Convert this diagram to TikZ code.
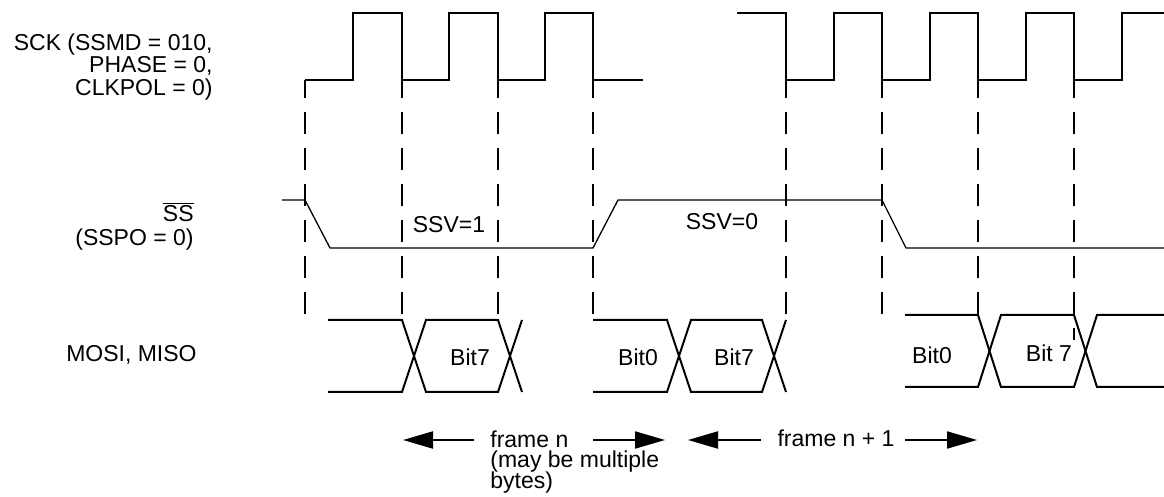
\documentclass[tikz,border=0pt]{standalone}
\usepackage{fontspec}
\setmainfont{Liberation Sans}
\usetikzlibrary{arrows.meta}
\newcommand\sigfont{\fontsize{11.5}{10.3}\selectfont\lineskiplimit=-10pt\relax}

\begin{document}
\begin{tikzpicture}[
    x=0.5pt, y=-0.5pt,
    >={Triangle[length=15pt, width=8.5pt]},
    sigtext/.style={font=\sigfont, inner sep=0pt},
    lbl/.style={sigtext, anchor=east, align=right},
    clk/.style={line width=1.4pt},
    ssline/.style={line width=0.65pt},
    dataline/.style={line width=1pt},
    guide/.style={line width=1pt, dash pattern=on 11pt off 7pt, dash phase=2pt},
    frarrow/.style={->, line width=1pt}
]
\useasboundingbox (0,0) rectangle (1164,497);

% SIGNAL NAMES (LEFT)
\node[lbl, font=\fontsize{11.5}{11.2}\selectfont] (sck_lbl) at (213,67) {SCK (SSMD = 010,\\PHASE = 0,\\CLKPOL = 0)};
\node[lbl] (ss_lbl) at (194,212) {$\overline{\mbox{SS}}$};
\node[lbl] (sspo_lbl) at (194,240) {(SSPO = 0)};
\node[lbl] (mosi_lbl) at (197,355) {MOSI, MISO};

% SCK
\draw[clk] (305,80) -| (353,13) -| (402,80) -| (449,13) -| (498,80) -| (545,13) -| (593,80) -- (643,80);
\draw[clk] (737,13) -| (786,80) -| (834,13) -| (882,80) -| (930,13) -| (978,80) -| (1026,13) -| (1074,80) -| (1122,13) -- (1164,13);

% guides on the falling edges
\draw[guide] (305,80) -- (305,316);
\draw[guide] (402,80) -- (402,316);
\draw[guide] (498,80) -- (498,316);
\draw[guide] (593,80) -- (593,316);
\draw[guide] (786,80) -- (786,316);
\draw[guide] (882,80) -- (882,316);
\draw[guide] (978,80) -- (978,316);
\draw[guide] (1074,80) -- (1074,340);

% SS
\draw[ssline] (282,200) -- (305,200) -- (330,248) -- (593,248) -- (618,200) -- (882,200) -- (906,248) -- (1164,248);
\node[sigtext] (ssv1) at (449,225) {SSV=1};
\node[sigtext] (ssv0) at (722,222) {SSV=0};

% MOSI, MISO
\draw[dataline] (328,320) -- (402,320) -- (426,392) -- (498,392) -- (522,320);
\draw[dataline] (328,392) -- (402,392) -- (426,320) -- (498,320) -- (522,392);
\node[sigtext] (bit7_a) at (470,357) {Bit7};

\draw[dataline] (593,320) -- (667,320) -- (691,392) -- (762,392) -- (786,320);
\draw[dataline] (593,392) -- (667,392) -- (691,320) -- (762,320) -- (786,392);
\node[sigtext] (bit0_b) at (638,357) {Bit0};
\node[sigtext] (bit7_b) at (734,357) {Bit7};

\draw[dataline] (905,315) -- (978,315) -- (1001,387) -- (1074,387) -- (1097,315) -- (1164,315);
\draw[dataline] (905,387) -- (978,387) -- (1001,315) -- (1074,315) -- (1097,387) -- (1164,387);
\node[sigtext] (bit0_c) at (932,355) {Bit0};
\node[sigtext] (bit7_c) at (1049,353) {Bit 7};

% FRAMES
\node[sigtext, anchor=north west, align=left] (frame_n) at (490,430) {frame n\\(may be multiple\\bytes)};
\node[sigtext] (frame_n1) at (836,438) {frame n + 1};
\coordinate (fn_a) at (474,440);
\coordinate (fn_l) at (403,440);
\coordinate (fn_b) at (593,440);
\coordinate (fn_r) at (665,440);
\coordinate (fn1_a) at (761,440);
\coordinate (fn1_l) at (688,440);
\coordinate (fn1_b) at (905,440);
\coordinate (fn1_r) at (977,440);
\draw[frarrow] (fn_a) -- (fn_l);
\draw[frarrow] (fn_b) -- (fn_r);
\draw[frarrow] (fn1_a) -- (fn1_l);
\draw[frarrow] (fn1_b) -- (fn1_r);

\end{tikzpicture}
\end{document}
